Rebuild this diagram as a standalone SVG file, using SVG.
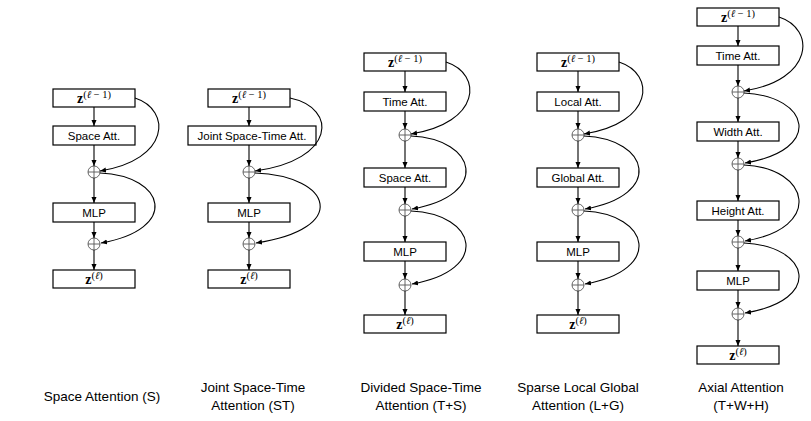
<svg xmlns="http://www.w3.org/2000/svg" width="811" height="421" viewBox="0 0 811 421">
<style>
.box{fill:#fff;stroke:#000;stroke-width:1.2}
.lbl{font-family:"Liberation Sans",Arial,sans-serif;font-size:11.5px;text-anchor:middle;fill:#000}
.cap{font-family:"Liberation Sans",Arial,sans-serif;font-size:13.5px;text-anchor:middle;fill:#000}
.z{font-family:"Liberation Serif","DejaVu Serif",serif;text-anchor:middle;fill:#000}
.zb{font-weight:bold;font-size:14px}
.sup{font-size:10.5px;font-style:italic}
.sup2{font-size:10.5px}
.arr{fill:none;stroke:#000;stroke-width:1.1;marker-end:url(#ah)}
.circ{fill:#fff;stroke:#555;stroke-width:0.9}
.pl{stroke:#555;stroke-width:0.9}
</style>
<defs>
<marker id="ah" viewBox="0 0 10 10" refX="10" refY="5" markerWidth="6" markerHeight="6" orient="auto" markerUnits="userSpaceOnUse"><path d="M0,0.8 L10,5 L0,9.2 z" fill="#000"/></marker>
<g id="plus"><circle class="circ" cx="0" cy="0" r="6"/><line class="pl" x1="-6" y1="0" x2="6" y2="0"/><line class="pl" x1="0" y1="-6" x2="0" y2="6"/></g>
</defs>
<rect width="811" height="421" fill="#fff"/>

<!-- Column 1: Space Attention -->
<g id="c1-zin"><rect class="box" x="53" y="89" width="82" height="18"/><text class="z" x="94" y="102.5"><tspan class="zb">z</tspan><tspan class="sup2" dy="-5">(</tspan><tspan class="sup">ℓ</tspan><tspan class="sup2"> − 1)</tspan></text></g>
<g id="c1-att"><rect class="box" x="53" y="126" width="82" height="19"/><text class="lbl" x="94" y="139.5">Space Att.</text></g>
<g id="c1-add1"><use href="#plus" x="94" y="172"/></g>
<g id="c1-mlp"><rect class="box" x="53" y="203" width="82" height="19"/><text class="lbl" x="94" y="216.5">MLP</text></g>
<g id="c1-add2"><use href="#plus" x="94" y="244"/></g>
<g id="c1-zout"><rect class="box" x="53" y="270" width="82" height="18"/><text class="z" x="94" y="283.5"><tspan class="zb">z</tspan><tspan class="sup2" dy="-5">(</tspan><tspan class="sup">ℓ</tspan><tspan class="sup2">)</tspan></text></g>

<!-- Column 2: Joint Space-Time -->
<g id="c2-zin"><rect class="box" x="208" y="89" width="82" height="18"/><text class="z" x="249" y="102.5"><tspan class="zb">z</tspan><tspan class="sup2" dy="-5">(</tspan><tspan class="sup">ℓ</tspan><tspan class="sup2"> − 1)</tspan></text></g>
<g id="c2-att"><rect class="box" x="188" y="126" width="128" height="19"/><text class="lbl" x="252" y="139.5">Joint Space-Time Att.</text></g>
<g id="c2-add1"><use href="#plus" x="249" y="172"/></g>
<g id="c2-mlp"><rect class="box" x="208" y="203" width="82" height="19"/><text class="lbl" x="249" y="216.5">MLP</text></g>
<g id="c2-add2"><use href="#plus" x="249" y="244"/></g>
<g id="c2-zout"><rect class="box" x="208" y="270" width="82" height="18"/><text class="z" x="249" y="283.5"><tspan class="zb">z</tspan><tspan class="sup2" dy="-5">(</tspan><tspan class="sup">ℓ</tspan><tspan class="sup2">)</tspan></text></g>

<!-- Column 3: Divided Space-Time -->
<g id="c3-zin"><rect class="box" x="364" y="53" width="82" height="18"/><text class="z" x="405" y="66.5"><tspan class="zb">z</tspan><tspan class="sup2" dy="-5">(</tspan><tspan class="sup">ℓ</tspan><tspan class="sup2"> − 1)</tspan></text></g>
<g id="c3-time"><rect class="box" x="364" y="92" width="82" height="19"/><text class="lbl" x="405" y="105.5">Time Att.</text></g>
<g id="c3-add1"><use href="#plus" x="405" y="135"/></g>
<g id="c3-space"><rect class="box" x="364" y="168" width="82" height="19"/><text class="lbl" x="405" y="181.5">Space Att.</text></g>
<g id="c3-add2"><use href="#plus" x="405" y="210"/></g>
<g id="c3-mlp"><rect class="box" x="364" y="242" width="82" height="19"/><text class="lbl" x="405" y="255.5">MLP</text></g>
<g id="c3-add3"><use href="#plus" x="405" y="285"/></g>
<g id="c3-zout"><rect class="box" x="364" y="315" width="82" height="18"/><text class="z" x="405" y="328.5"><tspan class="zb">z</tspan><tspan class="sup2" dy="-5">(</tspan><tspan class="sup">ℓ</tspan><tspan class="sup2">)</tspan></text></g>

<!-- Column 4: Sparse Local Global -->
<g id="c4-zin"><rect class="box" x="537" y="53" width="82" height="18"/><text class="z" x="578" y="66.5"><tspan class="zb">z</tspan><tspan class="sup2" dy="-5">(</tspan><tspan class="sup">ℓ</tspan><tspan class="sup2"> − 1)</tspan></text></g>
<g id="c4-local"><rect class="box" x="537" y="92" width="82" height="19"/><text class="lbl" x="578" y="105.5">Local Att.</text></g>
<g id="c4-add1"><use href="#plus" x="578" y="135"/></g>
<g id="c4-global"><rect class="box" x="537" y="168" width="82" height="19"/><text class="lbl" x="578" y="181.5">Global Att.</text></g>
<g id="c4-add2"><use href="#plus" x="578" y="210"/></g>
<g id="c4-mlp"><rect class="box" x="537" y="242" width="82" height="19"/><text class="lbl" x="578" y="255.5">MLP</text></g>
<g id="c4-add3"><use href="#plus" x="578" y="285"/></g>
<g id="c4-zout"><rect class="box" x="537" y="315" width="82" height="18"/><text class="z" x="578" y="328.5"><tspan class="zb">z</tspan><tspan class="sup2" dy="-5">(</tspan><tspan class="sup">ℓ</tspan><tspan class="sup2">)</tspan></text></g>

<!-- Column 5: Axial -->
<g id="c5-zin"><rect class="box" x="697" y="8" width="82" height="18"/><text class="z" x="738" y="21.5"><tspan class="zb">z</tspan><tspan class="sup2" dy="-5">(</tspan><tspan class="sup">ℓ</tspan><tspan class="sup2"> − 1)</tspan></text></g>
<g id="c5-time"><rect class="box" x="697" y="46" width="82" height="19"/><text class="lbl" x="738" y="59.5">Time Att.</text></g>
<g id="c5-add1"><use href="#plus" x="738" y="92"/></g>
<g id="c5-width"><rect class="box" x="697" y="122" width="82" height="19"/><text class="lbl" x="738" y="135.5">Width Att.</text></g>
<g id="c5-add2"><use href="#plus" x="738" y="164"/></g>
<g id="c5-height"><rect class="box" x="697" y="201" width="82" height="19"/><text class="lbl" x="738" y="214.5">Height Att.</text></g>
<g id="c5-add3"><use href="#plus" x="738" y="242"/></g>
<g id="c5-mlp"><rect class="box" x="697" y="271" width="82" height="19"/><text class="lbl" x="738" y="284.5">MLP</text></g>
<g id="c5-add4"><use href="#plus" x="738" y="314"/></g>
<g id="c5-zout"><rect class="box" x="697" y="346" width="82" height="18"/><text class="z" x="738" y="359.5"><tspan class="zb">z</tspan><tspan class="sup2" dy="-5">(</tspan><tspan class="sup">ℓ</tspan><tspan class="sup2">)</tspan></text></g>

<g id="connectors">
<!-- c1 -->
<path class="arr" d="M94,107 V126"/><path class="arr" d="M94,145 V166"/><path class="arr" d="M94,178 V203"/><path class="arr" d="M94,222 V238"/><path class="arr" d="M94,250 V270"/>
<path class="arr" d="M135,98 C172,110 170,160 100,171"/>
<path class="arr" d="M100,173 C166,176 180,229 101,243"/>
<!-- c2 -->
<path class="arr" d="M249,107 V126"/><path class="arr" d="M249,145 V166"/><path class="arr" d="M249,178 V203"/><path class="arr" d="M249,222 V238"/><path class="arr" d="M249,250 V270"/>
<path class="arr" d="M290,98 C338,108 336,160 255,171"/>
<path class="arr" d="M255,173 C333,176 350,229 256,243"/>
<!-- c3 -->
<path class="arr" d="M405,71 V92"/><path class="arr" d="M405,111 V129"/><path class="arr" d="M405,141 V168"/><path class="arr" d="M405,187 V204"/><path class="arr" d="M405,216 V242"/><path class="arr" d="M405,261 V279"/><path class="arr" d="M405,291 V315"/>
<path class="arr" d="M446,62 C483,74 481,123 411,134"/>
<path class="arr" d="M411,136 C477,139 491,195 412,209"/>
<path class="arr" d="M411,211 C477,214 491,270 412,284"/>
<!-- c4 -->
<path class="arr" d="M578,71 V92"/><path class="arr" d="M578,111 V129"/><path class="arr" d="M578,141 V168"/><path class="arr" d="M578,187 V204"/><path class="arr" d="M578,216 V242"/><path class="arr" d="M578,261 V279"/><path class="arr" d="M578,291 V315"/>
<path class="arr" d="M619,62 C656,74 654,123 584,134"/>
<path class="arr" d="M584,136 C650,139 664,195 585,209"/>
<path class="arr" d="M584,211 C650,214 664,270 585,284"/>
<!-- c5 -->
<path class="arr" d="M738,26 V46"/><path class="arr" d="M738,65 V86"/><path class="arr" d="M738,98 V122"/><path class="arr" d="M738,141 V158"/><path class="arr" d="M738,170 V201"/><path class="arr" d="M738,220 V236"/><path class="arr" d="M738,248 V271"/><path class="arr" d="M738,290 V308"/><path class="arr" d="M738,320 V346"/>
<path class="arr" d="M779,17 C816,29 814,80 744,91"/>
<path class="arr" d="M744,93 C810,96 824,150 745,163"/>
<path class="arr" d="M744,165 C810,168 824,228 745,241"/>
<path class="arr" d="M744,243 C810,246 824,300 745,313"/>
</g>

<g id="captions">
<text class="cap" x="102" y="400.5">Space Attention (S)</text>
<text class="cap" x="253" y="391.5">Joint Space-Time</text>
<text class="cap" x="253" y="409.5">Attention (ST)</text>
<text class="cap" x="421" y="391.5">Divided Space-Time</text>
<text class="cap" x="421" y="409.5">Attention (T+S)</text>
<text class="cap" x="578" y="391.5">Sparse Local Global</text>
<text class="cap" x="578" y="409.5">Attention (L+G)</text>
<text class="cap" x="741" y="391.5">Axial Attention</text>
<text class="cap" x="741" y="409.5">(T+W+H)</text>
</g>
</svg>
